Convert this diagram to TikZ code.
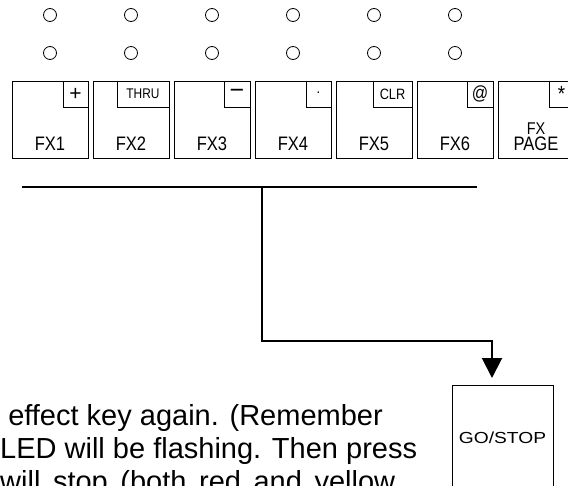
\documentclass[tikz,border=0pt]{standalone}
\usepackage{fontspec}
\setmainfont{Liberation Sans}
\newfontfamily\keyfont[FakeStretch=0.85]{Liberation Sans}
\newfontfamily\stopfont[FakeStretch=1.2]{Liberation Sans}
\usetikzlibrary{arrows.meta,positioning}

\begin{document}
\begin{tikzpicture}[x=1pt, y=-1pt,
    led/.style ={circle, draw, line width=0.8pt, inner sep = 0pt, minimum size=13pt},
    key/.style ={rectangle, draw, line width=0.9pt, inner sep = 0pt, minimum width=76pt, minimum height=77pt},
    tag/.style ={rectangle, draw, line width=0.9pt, inner sep = 0pt, minimum height=26pt, anchor=north east},
    keylabel/.style ={inner sep = 0pt, align=center, font=\keyfont\fontsize{19.5}{16}\selectfont},
    para/.style ={inner sep = 0pt, anchor=base west, font=\fontsize{29}{33}\selectfont},
    bus/.style ={line width=2pt}]
   \useasboundingbox (0,0) rectangle (568,485);
   \clip (0,0) rectangle (568,485);

   % LEDs, two rows
   \node[led] (a1) at (50,15) {};
   \node[led] (a2) at (131,15) {};
   \node[led] (a3) at (212,15) {};
   \node[led] (a4) at (293,15) {};
   \node[led] (a5) at (374,15) {};
   \node[led] (a6) at (455,15) {};
   \node[led] (b1) at (50,53) {};
   \node[led] (b2) at (131,53) {};
   \node[led] (b3) at (212,53) {};
   \node[led] (b4) at (293,53) {};
   \node[led] (b5) at (374,53) {};
   \node[led] (b6) at (455,53) {};

   % keys
   \node[key] (k1) at (50,119.5) {};
   \node[key] (k2) at (131,119.5) {};
   \node[key] (k3) at (212,119.5) {};
   \node[key] (k4) at (293,119.5) {};
   \node[key] (k5) at (374,119.5) {};
   \node[key] (k6) at (455,119.5) {};
   \node[key] (k7) at (536,119.5) {};

   \node[keylabel, above=8pt of k1.south] (l1) {FX1};
   \node[keylabel, above=8pt of k2.south] (l2) {FX2};
   \node[keylabel, above=8pt of k3.south] (l3) {FX3};
   \node[keylabel, above=8pt of k4.south] (l4) {FX4};
   \node[keylabel, above=8pt of k5.south] (l5) {FX5};
   \node[keylabel, above=8pt of k6.south] (l6) {FX6};
   \node[keylabel, above=8pt of k7.south] (l7) {PAGE};
   \node[keylabel, above=2pt of l7, font=\keyfont\fontsize{17}{17}\selectfont] (l7top) {FX};

   \node[tag, minimum width=25pt, font=\fontsize{21}{21}\selectfont] (t1) at (k1.north east) {+};
   \node[tag, minimum width=52pt, font=\keyfont\fontsize{14}{14}\selectfont] (t2) at (k2.north east) {THRU};
   \node[tag, minimum width=26pt, font=\fontsize{25}{25}\selectfont] (t3) at (k3.north east) {−};
   \node[tag, minimum width=25pt, font=\fontsize{14}{14}\selectfont] (t4) at (k4.north east) {·};
   \node[tag, minimum width=39pt, font=\keyfont\fontsize{15}{15}\selectfont] (t5) at (k5.north east) {CLR};
   \node[tag, minimum width=26pt, font=\keyfont\fontsize{19}{19}\selectfont] (t6) at (k6.north east) {@};
   \node[tag, minimum width=25pt, font=\keyfont\fontsize{22}{22}\selectfont] (t7) at (k7.north east) {*};

   % bus to GO/STOP
   \coordinate (busL) at (22,187);
   \coordinate (busR) at (477,187);
   \coordinate (drop) at (262,187);
   \coordinate (elbow) at (492,341);
   \coordinate (tip) at (492,378);
   \draw[bus] (busL) -- (busR);
   \draw[bus, -{Triangle[length=20pt, width=20pt]}] (drop) |- (elbow) -- (tip);

   \node[draw, line width=0.9pt, inner sep = 0pt, minimum width=101pt, minimum height=134pt] (go) at (502.5,452) {};
   \node[inner sep = 0pt, font=\stopfont\fontsize{16}{16}\selectfont] (golabel) at (502.5,438) {GO/STOP};

   % running text
   \node[para] (line1) at (0,425) {\ effect key again. (Remember};
   \node[para] (line2) at (0,458) {LED will be flashing. Then press};
   \node[para] (line3) at (0,491) {\makebox[395pt][s]{will stop (both red and yellow}};
\end{tikzpicture}
\end{document}
